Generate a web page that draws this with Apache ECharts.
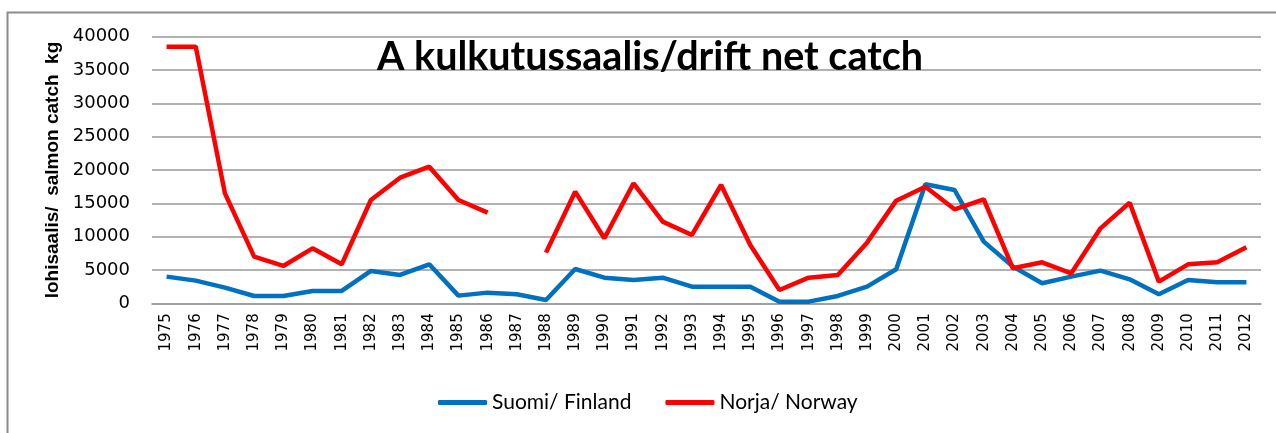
<!DOCTYPE html>
<html>
<head>
<meta charset="utf-8">
<script src="https://cdn.jsdelivr.net/npm/echarts@6/dist/echarts.min.js"></script>
<style>
html, body { margin: 0; padding: 0; background: #fff; }
#main { width: 1276px; height: 433px; }
</style>
</head>
<body>
<div id="main"></div>
<script>
// vuodet
var years = [];
for (var y = 1975; y <= 2012; y++) years.push(String(y));

// Suomi / Finland, kg
var finland = [4000, 3400, 2350, 1100, 1100, 1850, 1850, 4850, 4250, 5850,
               1150, 1600, 1350, 500, 5150, 3850, 3500, 3850, 2500, 2500,
               2500, 250, 250, 1100, 2500, 5100, 17850, 17000, 9250, 5500,
               3000, 4000, 4900, 3600, 1350, 3500, 3150, 3150];

// Norja / Norway, kg (1987 puuttuu)
var norway = [38500, 38500, 16500, 7000, 5600, 8250, 5850, 15500, 18850, 20500,
              15500, 13600, null, 7600, 16750, 9750, 18000, 12250, 10250, 17750,
              8750, 2000, 3850, 4250, 9100, 15400, 17500, 14100, 15600, 5250,
              6150, 4500, 11250, 15100, 3250, 5850, 6150, 8400];

var chart = echarts.init(document.getElementById('main'));

option = {
    animation: false,
    title: {
        text: 'A kulkutussaalis/drift net catch',
        left: 645,
        top: 32,
        textAlign: 'center',
        textStyle: {
            fontFamily: 'Lato',
            fontWeight: 'bold',
            fontSize: 39.5,
            color: '#000'
        }
    },
    graphic: [{
        type: 'rect',
        shape: { x: 7.5, y: 12.5, width: 1400, height: 600 },
        style: { fill: 'none', stroke: '#8c8c8c', lineWidth: 2 },
        silent: true
    }],
    legend: {
        data: ['Suomi/ Finland', 'Norja/ Norway'],
        left: 433,
        top: 387,
        icon: 'roundRect',
        itemWidth: 49,
        itemHeight: 5,
        itemGap: 34,
        textStyle: {
            fontFamily: 'Lato',
            fontSize: 21,
            color: '#000'
        }
    },
    grid: {
        left: 152,
        right: 15,
        top: 36.7,
        bottom: 129.7
    },
    xAxis: {
        type: 'category',
        data: years,
        boundaryGap: true,
        axisLine: { show: true, lineStyle: { color: '#999', width: 1.5 } },
        axisTick: { show: false },
        axisLabel: {
            interval: 0,
            rotate: 90,
            margin: 10,
            fontFamily: 'DejaVu Sans',
            fontSize: 15,
            color: '#000'
        }
    },
    yAxis: {
        type: 'value',
        min: 0,
        max: 40000,
        interval: 5000,
        name: 'lohisaalis/  salmon catch  kg',
        nameLocation: 'middle',
        nameGap: 90,
        nameTextStyle: {
            fontFamily: 'Liberation Sans',
            fontWeight: 'bold',
            fontSize: 19,
            color: '#000'
        },
        axisLine: { show: false },
        axisTick: { show: false },
        axisLabel: {
            margin: 22,
            fontFamily: 'DejaVu Sans',
            fontSize: 18,
            color: '#000',
            formatter: function (v) { return String(v); }
        },
        splitLine: { lineStyle: { color: '#999', width: 1.5 } }
    },
    series: [
        {
            name: 'Suomi/ Finland',
            type: 'line',
            data: finland,
            symbol: 'none',
            lineStyle: { color: '#0070C0', width: 4.5 },
            itemStyle: { color: '#0070C0' }
        },
        {
            name: 'Norja/ Norway',
            type: 'line',
            data: norway,
            symbol: 'none',
            connectNulls: false,
            lineStyle: { color: '#FF0000', width: 4.5 },
            itemStyle: { color: '#FF0000' }
        }
    ]
};

chart.setOption(option, true);
</script>
</body>
</html>
